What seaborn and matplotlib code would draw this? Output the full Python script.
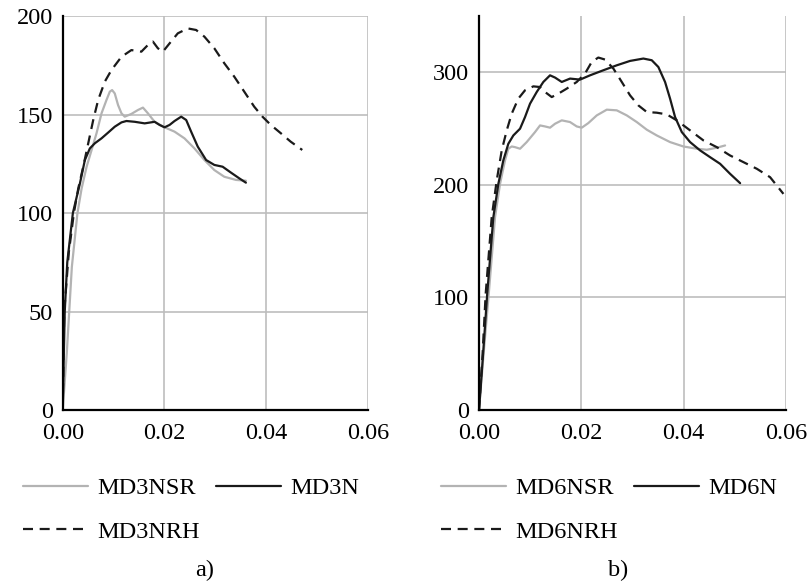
import matplotlib
matplotlib.use("Agg")
import matplotlib.pyplot as plt
import seaborn as sns
import pandas as pd
from matplotlib.ticker import MultipleLocator

# ---- panel a) load–drift curves ----
md3nsr_x = [0, 0.0008, 0.0018, 0.0029, 0.00372, 0.0047, 0.00568, 0.00665, 0.00763, 0.00861,
            0.00926, 0.00971, 0.01023, 0.01088, 0.01155, 0.01219, 0.0135, 0.0148, 0.01577,
            0.01675, 0.01806, 0.02002, 0.02198, 0.02393, 0.02589, 0.02785, 0.0298, 0.03176,
            0.03405, 0.036]
md3nsr_y = [0, 28.8, 72.7, 100, 112.5, 123.5, 132, 140.5, 150.6, 157.4,
            161.6, 162.4, 160.7, 154.8, 150.6, 148.9, 150.3, 152.3, 153.5,
            150.6, 146.3, 143.5, 141.3, 137.9, 132.8, 126.9, 121.8, 118.4,
            116.8, 116.4]

md3n_x = [0, 0.0004, 0.0009, 0.0020, 0.00339, 0.00436, 0.00534, 0.00632, 0.00763, 0.00892,
          0.01023, 0.01155, 0.01252, 0.01415, 0.01611, 0.01806, 0.01904, 0.02002, 0.021,
          0.02198, 0.02329, 0.02427, 0.02524, 0.02654, 0.02818, 0.0298, 0.03143, 0.03307,
          0.0347, 0.036]
md3n_y = [0, 50, 75, 100, 115.1, 126.9, 132.8, 135.4, 137.9, 140.8,
          143.8, 146, 146.7, 146.3, 145.5, 146.3, 144.7, 143.5, 144.7,
          146.7, 148.9, 147.2, 141.3, 133.7, 126.9, 124.4, 123.5, 120.5,
          117.6, 115.4]

md3nrh_x = [0, 0.0003, 0.0012, 0.0022, 0.00306, 0.00404, 0.00502, 0.0060, 0.00697, 0.00828,
            0.00959, 0.01155, 0.0135, 0.01546, 0.01675, 0.01773, 0.01871, 0.01969, 0.021,
            0.02262, 0.02458, 0.02622, 0.02785, 0.0298, 0.03176, 0.03372, 0.03568, 0.03763,
            0.03926, 0.0409, 0.04286, 0.04481, 0.04708]
md3nrh_y = [0, 50, 80, 100, 112.5, 123.5, 135.4, 147.2, 157.4, 166.7,
            172.6, 179.3, 182.7, 181.9, 185.3, 187, 183.6, 181.9, 186.1,
            191.2, 193.7, 192.9, 189.5, 183.6, 176, 169.2, 161.6, 154,
            148.9, 144.7, 140.5, 136.2, 132]

# ---- panel b) load–drift curves ----
md6nsr_x = [0, 0.0009, 0.0019, 0.00313, 0.00411, 0.00508, 0.00573, 0.00639, 0.00704, 0.00802,
            0.00932, 0.01095, 0.01193, 0.0129, 0.01388, 0.01486, 0.01617, 0.01779, 0.0191,
            0.02008, 0.02137, 0.02301, 0.02497, 0.02692, 0.02888, 0.03083, 0.03279, 0.03474,
            0.03734, 0.03994, 0.04256, 0.04452, 0.04647, 0.04809]
md6nsr_y = [0, 50, 103, 171.2, 200.9, 221.7, 232.1, 234.1, 233.5, 232.1,
            238, 246.9, 252.8, 251.9, 250.8, 254.3, 257.3, 255.8, 251.9,
            250.8, 254.9, 261.7, 266.8, 266.2, 261.7, 255.8, 249, 243.9,
            238, 234.1, 232.1, 231.2, 233, 235]

md6n_x = [0, 0.0008, 0.0016, 0.0028, 0.00378, 0.00475, 0.00573, 0.00671, 0.00802, 0.00899,
          0.00997, 0.01128, 0.01257, 0.01388, 0.01486, 0.01617, 0.01779, 0.01975, 0.0217,
          0.0243, 0.02692, 0.02952, 0.03212, 0.03376, 0.03505, 0.03636, 0.03734, 0.03832,
          0.03963, 0.04125, 0.04321, 0.04516, 0.04712, 0.04907, 0.05103]
md6n_y = [0, 50, 103, 171.2, 200.9, 221.7, 236.5, 243.9, 249.9, 260.2,
          272.1, 282.5, 291.4, 297.3, 295.3, 291.4, 294.4, 293.5, 297.3,
          301.8, 306.2, 310.1, 312.2, 310.7, 304.7, 291.4, 276.6, 260.2,
          246.9, 238, 230.6, 224.6, 218.7, 209.8, 201.5]

md6nrh_x = [0, 0.0007, 0.0013, 0.00248, 0.00346, 0.00444, 0.00542, 0.00639, 0.00768, 0.00899,
            0.01062, 0.01193, 0.0129, 0.01421, 0.0155, 0.01715, 0.0191, 0.02072, 0.02203,
            0.02332, 0.02463, 0.02626, 0.0279, 0.02952, 0.03114, 0.03279, 0.03474, 0.0367,
            0.03865, 0.04125, 0.04385, 0.04647, 0.04907, 0.05167, 0.05429, 0.05689, 0.05949]
md6nrh_y = [0, 50, 103, 171.2, 203.9, 230.6, 248.4, 263.2, 276.6, 284,
            287.5, 286.9, 282.5, 278, 281, 285.5, 291.4, 298.9, 309.2,
            313.1, 311.3, 303.3, 291.4, 279.5, 270.6, 264.7, 264.1, 262.6,
            257.3, 248.4, 239.5, 233.5, 226.1, 220.2, 214.3, 206.8, 192]

x_ticks = [0.00, 0.02, 0.04, 0.06]
x_tick_labels = ["0.00", "0.02", "0.04", "0.06"]
a_y_ticks = [0, 50, 100, 150, 200]
b_y_ticks = [0, 100, 200, 300]

GRAY = "#b3b3b3"
BLACK = "#1a1a1a"

sns.set_theme(style="white")
plt.rcParams["font.family"] = ["Liberation Serif", "DejaVu Serif"]
plt.rcParams["font.size"] = 17.5
plt.rcParams["lines.solid_capstyle"] = "round"
plt.rcParams["lines.solid_joinstyle"] = "round"


def frame(names, xs, ys):
    parts = []
    for n, x, y in zip(names, xs, ys):
        parts.append(pd.DataFrame({"strain": x, "load": y, "specimen": n}))
    return pd.concat(parts, ignore_index=True)


def draw_panel(ax, names, xs, ys, ylim, yticks, yminor):
    df = frame(names, xs, ys)
    palette = {names[0]: GRAY, names[1]: BLACK, names[2]: BLACK}
    dashes = {names[0]: "", names[1]: "", names[2]: (4.5, 3)}
    sns.lineplot(data=df, x="strain", y="load", hue="specimen", style="specimen",
                 palette=palette, dashes=dashes, sort=False, estimator=None,
                 linewidth=1.6, legend=False, ax=ax)
    ax.set_xlim(0, 0.06)
    ax.set_ylim(*ylim)
    ax.set_xticks(x_ticks)
    ax.set_xticklabels(x_tick_labels)
    ax.set_yticks(yticks)
    ax.xaxis.set_minor_locator(MultipleLocator(0.01))
    if yminor:
        ax.yaxis.set_minor_locator(MultipleLocator(yminor))
    ax.set_xlabel("")
    ax.set_ylabel("")
    ax.grid(True, which="major", color="#bdbdbd", linewidth=1.2)
    ax.set_axisbelow(True)
    for side in ("top", "right"):
        ax.spines[side].set_visible(False)
    for side in ("left", "bottom"):
        ax.spines[side].set_color("black")
        ax.spines[side].set_linewidth(1.6)
    ax.tick_params(axis="both", which="both", direction="in", colors="black",
                   width=1.4, labelsize=17.5)
    ax.tick_params(axis="both", which="major", length=5)
    ax.tick_params(axis="both", which="minor", length=4)
    ax.tick_params(axis="x", which="major", pad=9)
    ax.tick_params(axis="y", which="major", pad=7)
    for t in ax.get_xticklabels() + ax.get_yticklabels():
        t.set_color("black")
    return ax.get_lines()


fig = plt.figure(figsize=(8.09, 5.86), dpi=100)
ax_a = fig.add_axes([0.0775, 0.3003, 0.3774, 0.6724])
ax_b = fig.add_axes([0.5921, 0.3003, 0.3795, 0.6724])

names_a = ["MD3NSR", "MD3N", "MD3NRH"]
names_b = ["MD6NSR", "MD6N", "MD6NRH"]
lines_a = draw_panel(ax_a, names_a, [md3nsr_x, md3n_x, md3nrh_x],
                     [md3nsr_y, md3n_y, md3nrh_y], (0, 200), a_y_ticks, None)
lines_b = draw_panel(ax_b, names_b, [md6nsr_x, md6n_x, md6nrh_x],
                     [md6nsr_y, md6n_y, md6nrh_y], (0, 350), b_y_ticks, 50)


def add_legend(ax, lines, names, x0):
    order = [0, 2, 1]
    leg = ax.legend([lines[i] for i in order], [names[i] for i in order],
                    ncol=2, frameon=False, loc="upper left",
                    bbox_to_anchor=(x0 / 809, 1 - 477 / 586),
                    bbox_transform=fig.transFigure, borderpad=0, borderaxespad=0,
                    handlelength=2.67, handletextpad=0.37, columnspacing=0.7,
                    labelspacing=0.89, fontsize=17.5)
    for t in leg.get_texts():
        t.set_color("black")


add_legend(ax_a, lines_a, names_a, 23)
add_legend(ax_b, lines_b, names_b, 441)

fig.text(205 / 809, 1 - 570 / 586, "a)", ha="center", va="center", fontsize=17.5, color="black")
fig.text(618 / 809, 1 - 570 / 586, "b)", ha="center", va="center", fontsize=17.5, color="black")

fig.savefig("out.png", dpi=100)
